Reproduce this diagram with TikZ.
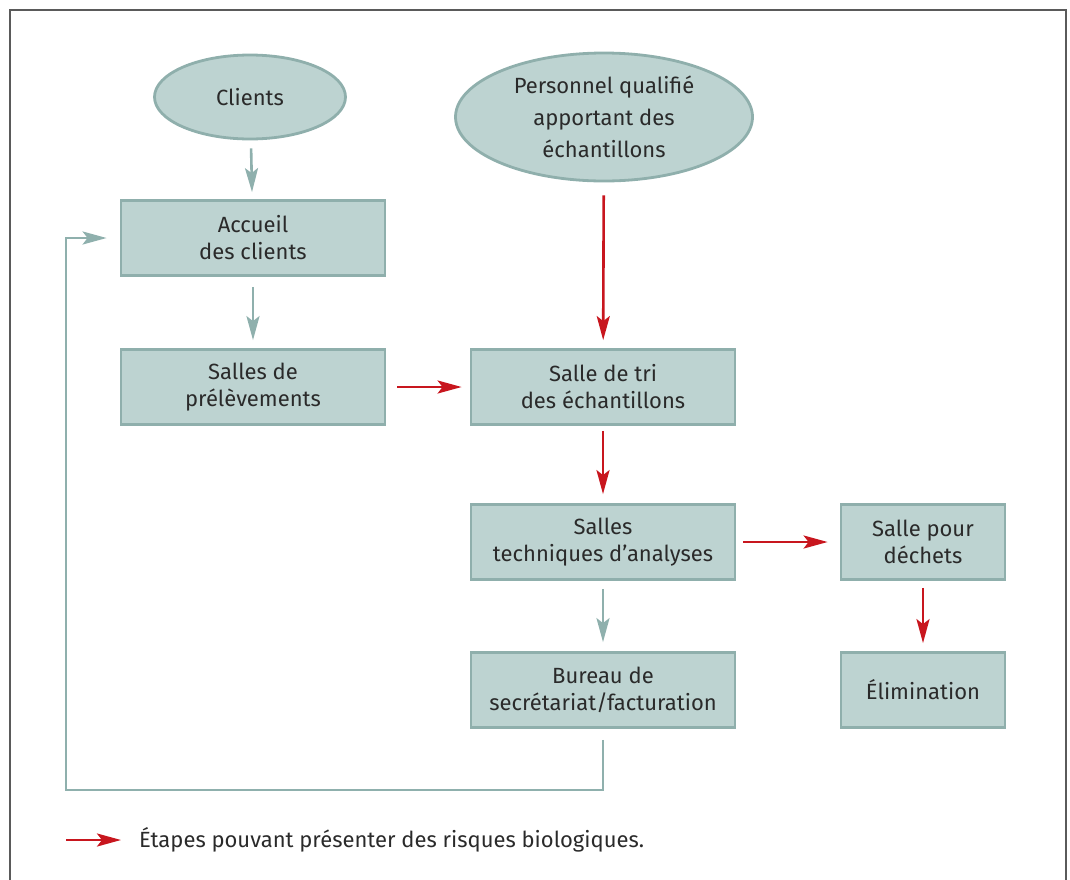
\documentclass[tikz,border=0pt]{standalone}
\usepackage{fontspec}
\setmainfont{Fira Sans}
\usetikzlibrary{arrows.meta,shapes.geometric}
\definecolor{boxfill}{HTML}{BDD3D1}
\definecolor{boxline}{HTML}{8FAFAC}
\definecolor{flowgray}{HTML}{8FB0AD}
\definecolor{riskred}{HTML}{C8161E}
\definecolor{ink}{HTML}{2A2A2A}
\definecolor{framegray}{HTML}{5A5A5A}
\tikzset{
  room/.style={rectangle, draw=boxline, fill=boxfill, line width=2.8pt,
    minimum width=264pt, minimum height=75pt, align=center, text=ink,
    font=\fontsize{22}{27}\selectfont, inner sep=0pt},
  smallroom/.style={room, minimum width=164pt},
  source/.style={ellipse, draw=boxline, fill=boxfill, line width=2.8pt,
    align=center, text=ink, inner sep=0pt, font=\fontsize{22}{32}\selectfont},
  tip/.style={-{Stealth[length=24pt,width=13pt,inset=5pt]}},
  grayflow/.style={tip, draw=flowgray, line width=2.6pt},
  redflow/.style={tip, draw=riskred, line width=2.6pt},
}
\begin{document}
\begin{tikzpicture}[x=1pt,y=-1pt]
\useasboundingbox (0,0) rectangle (1070,879);
% outer frame (open at the bottom)
\draw[framegray, line width=1.6pt] (10,890) -- (10,10) -- (1066,10) -- (1066,890);

% sources
\node[source, minimum width=191pt, minimum height=84pt] (clients) at (250,97) {Clients};
\node[source, minimum width=297pt, minimum height=128pt] (personnel) at (604,117)
  {Personnel qualifié\\apportant des\\échantillons};

% rooms
\node[room] (accueil) at (253,238) {Accueil\\des clients};
\node[room] (prelev) at (253,387) {Salles de\\prélèvements};
\node[room] (tri) at (603,387) {Salle de tri\\des échantillons};
\node[room] (tech) at (603,542) {Salles\\techniques d’analyses};
\node[room] (bureau) at (603,690) {Bureau de\\secrétariat/facturation};
\node[smallroom] (dechets) at (923,542) {Salle pour\\déchets};
\node[smallroom] (elim) at (923,690) {Élimination};

% gray flows
\draw[grayflow, shorten <=8pt, shorten >=7pt] (clients) -- (accueil);
\draw[grayflow, shorten <=10pt, shorten >=8pt] (accueil) -- (prelev);
\draw[grayflow, shorten <=8pt, shorten >=9pt] (tech.south) -- (bureau.north);

% return loop to the reception
\coordinate (loopcorner) at (66,790);
\draw[grayflow] ([yshift=-11pt]bureau.south) |- (loopcorner) |- ([xshift=-13pt]accueil.west);

% flows with biological risk
\draw[redflow, shorten <=11pt, shorten >=8pt] (prelev) -- (tri);
\draw[redflow, shorten <=13pt, shorten >=8pt] (personnel) -- (tri);
\draw[redflow, shorten <=5pt, shorten >=9pt] (tri) -- (tech);
\draw[redflow, shorten <=7pt, shorten >=12pt] (tech) -- (dechets);
\draw[redflow, shorten <=7pt, shorten >=8pt] (dechets) -- (elim);

% legend
\coordinate (legstart) at (66,840);
\coordinate (legend) at (121,840);
\draw[redflow] (legstart) -- (legend);
\node[anchor=west, text=ink, font=\fontsize{22}{27}\selectfont, inner sep=0pt] (legtext) at (139,840)
  {Étapes pouvant présenter des risques biologiques.};
\end{tikzpicture}
\end{document}
